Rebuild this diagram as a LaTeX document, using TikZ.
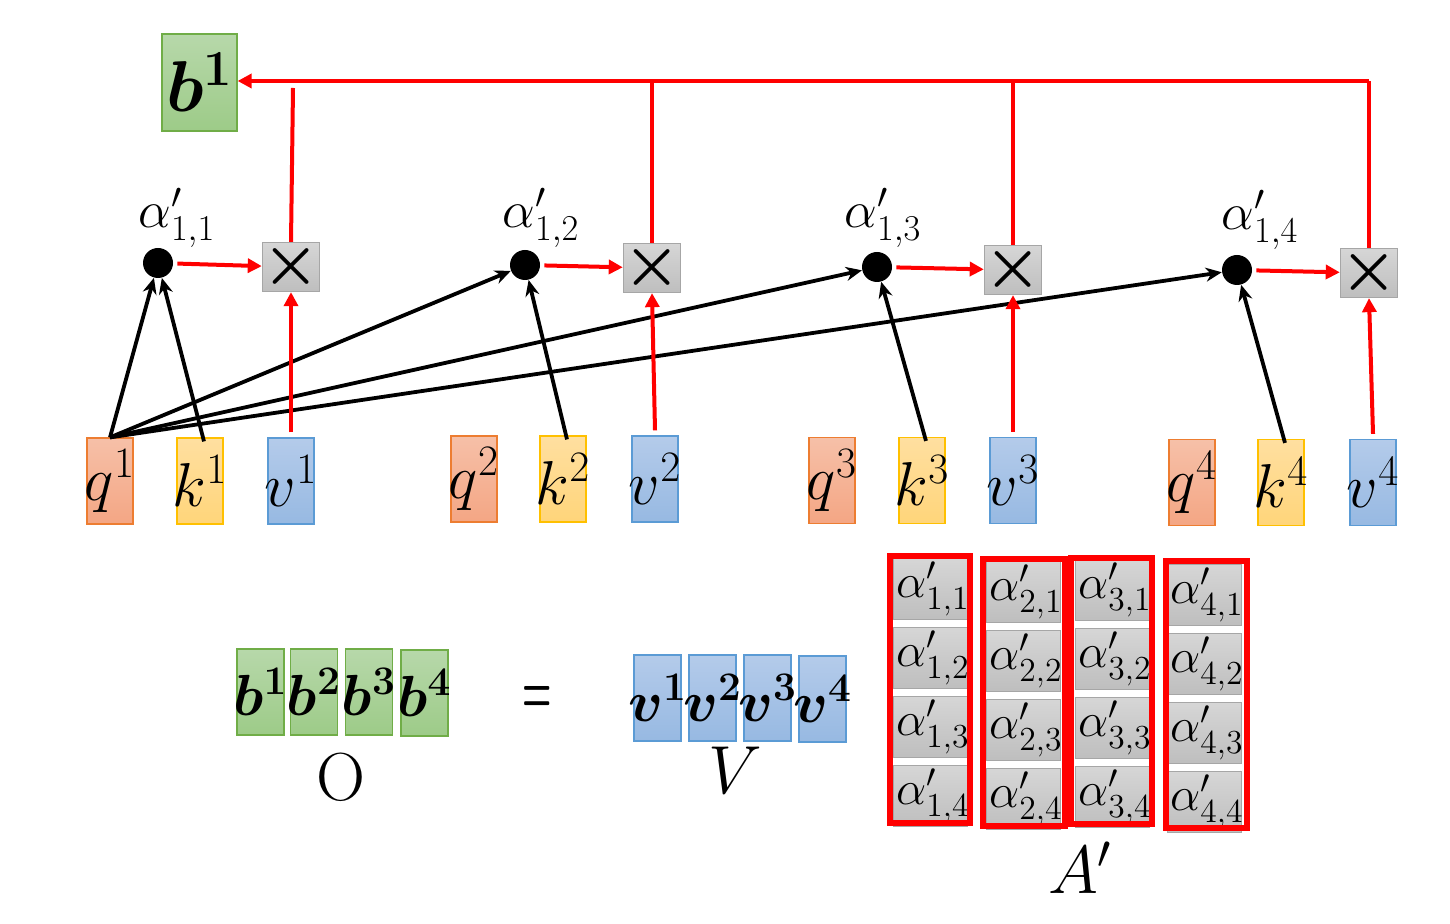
\RequirePackage{fix-cm}
\documentclass[tikz,border=0pt]{standalone}
\usepackage{amsmath,bm,graphicx}
\usetikzlibrary{arrows.meta,calc}
\definecolor{qtop}{RGB}{246,192,168}
\definecolor{qbot}{RGB}{244,166,132}
\definecolor{qdraw}{RGB}{237,125,49}
\definecolor{ktop}{RGB}{255,223,160}
\definecolor{kbot}{RGB}{255,213,122}
\definecolor{kdraw}{RGB}{255,192,0}
\definecolor{vtop}{RGB}{180,203,234}
\definecolor{vbot}{RGB}{151,185,226}
\definecolor{vdraw}{RGB}{91,155,213}
\definecolor{btop}{RGB}{183,216,170}
\definecolor{bbot}{RGB}{157,203,136}
\definecolor{bdraw}{RGB}{112,173,71}
\definecolor{gtop}{RGB}{214,214,214}
\definecolor{gbot}{RGB}{190,190,190}
\definecolor{gdraw}{RGB}{166,166,166}
\definecolor{myred}{RGB}{255,0,0}
\begin{document}
\begin{tikzpicture}[x=0.5pt,y=-0.5pt,
  vec/.style={draw, line width=0.6pt, minimum width=23pt, minimum height=43pt, inner sep=0pt,
    font=\fontsize{31}{33}\selectfont},
  qbox/.style={vec, draw=qdraw, top color=qtop, bottom color=qbot},
  kbox/.style={vec, draw=kdraw, top color=ktop, bottom color=kbot},
  vbox/.style={vec, draw=vdraw, top color=vtop, bottom color=vbot},
  bbox/.style={vec, draw=bdraw, top color=btop, bottom color=bbot},
  obox/.style={minimum width=23.5pt, font=\fontsize{29}{31}\selectfont},
  cross/.style={draw=gdraw, line width=0.6pt, top color=gtop, bottom color=gbot,
    minimum width=24pt, minimum height=24pt, inner sep=0pt, font=\fontsize{32}{32}\selectfont},
  cell/.style={draw=gdraw, line width=0.5pt, top color=gtop, bottom color=gbot,
    minimum width=37pt, minimum height=30.5pt, inner sep=0pt, font=\fontsize{24}{24}\selectfont},
  dot/.style={circle, fill=black, minimum size=15pt, inner sep=0pt},
  lab/.style={font=\fontsize{26}{28}\selectfont, inner sep=0pt},
  big/.style={font=\fontsize{34}{36}\selectfont, inner sep=0pt},
  rarr/.style={draw=myred, line width=2pt, -{Triangle[length=7pt,width=7pt]}},
  rline/.style={draw=myred, line width=2pt},
  barr/.style={draw=black, line width=1.9pt, -{Stealth[length=8pt,width=7pt]}},
  redbox/.style={draw=myred, line width=3pt}
]
\useasboundingbox (0,0) rectangle (1450,924);

% top output
\node[bbox, minimum width=37.5pt, minimum height=48.5pt, font=\fontsize{36}{38}\selectfont] (btop) at (199.5,82.5) {\makebox[0pt]{$\bm{b}^{\mathbf 1}$}};

% q k v
\node[qbox] (q1) at (110,481) {\makebox[0pt]{$q^1$}};
\node[kbox] (k1) at (200,481) {\makebox[0pt]{$k^1$}};
\node[vbox] (v1) at (291,481) {\makebox[0pt]{$v^1$}};
\node[qbox] (q2) at (474,479) {\makebox[0pt]{$q^2$}};
\node[kbox] (k2) at (563,479) {\makebox[0pt]{$k^2$}};
\node[vbox] (v2) at (655,479) {\makebox[0pt]{$v^2$}};
\node[qbox] (q3) at (832,480.5) {\makebox[0pt]{$q^3$}};
\node[kbox] (k3) at (922,480.5) {\makebox[0pt]{$k^3$}};
\node[vbox] (v3) at (1013,480.5) {\makebox[0pt]{$v^3$}};
\node[qbox] (q4) at (1192,482.5) {\makebox[0pt]{$q^4$}};
\node[kbox] (k4) at (1281,482.5) {\makebox[0pt]{$k^4$}};
\node[vbox] (v4) at (1373,482.5) {\makebox[0pt]{$v^4$}};

% dots
\node[dot] (d1) at (158,263) {};
\node[dot] (d2) at (525,265) {};
\node[dot] (d3) at (877,267) {};
\node[dot] (d4) at (1237,270) {};
\node[lab] (a1) at (177,218) {$\alpha'_{1,1}$};
\node[lab] (a2) at (541,218) {$\alpha'_{1,2}$};
\node[lab] (a3) at (883,218) {$\alpha'_{1,3}$};
\node[lab] (a4) at (1260,220) {$\alpha'_{1,4}$};

% crosses
\node[cross] (c1) at (291,267) {$\bm{\times}$};
\node[cross] (c2) at (652,268) {$\bm{\times}$};
\node[cross] (c3) at (1013,270) {$\bm{\times}$};
\node[cross] (c4) at (1369,273) {$\bm{\times}$};

% black arrows
\foreach \i in {1,2,3,4} {
  \draw[barr] (q1.north) -- (d\i);
  \draw[barr] ([xshift=2pt,yshift=-2pt]k\i.north) -- (d\i);
}

% red arrows
\foreach \i in {1,2,3,4} {
  \draw[rarr, shorten <=2pt] (d\i) -- (c\i);
  \draw[rarr] ([yshift=2.5pt]v\i.north) -- (c\i.south);
}

% top collecting line
\coordinate (tr) at (1369,81);
\coordinate (g1) at (293,88);
\draw[rline] (c4.north) -- (tr);
\draw[rarr] (tr) -- (btop.east |- tr);
\draw[rline] (c3.north) -- (c3.north |- tr);
\draw[rline] (c2.north) -- (c2.north |- tr);
\draw[rline] (c1.north) -- (g1);

% bottom equation
\node[bbox, obox] (ob1) at (260.5,692) {\makebox[0pt]{$\bm{b}^{\mathbf 1}$}};
\node[bbox, obox] (ob2) at (314,692) {\makebox[0pt]{$\bm{b}^{\mathbf 2}$}};
\node[bbox, obox] (ob3) at (369,692) {\makebox[0pt]{$\bm{b}^{\mathbf 3}$}};
\node[bbox, obox] (ob4) at (424.5,693) {\makebox[0pt]{$\bm{b}^{\mathbf 4}$}};
\node[big] (O) at (341,777) {O};
\node[inner sep=0pt, font=\fontsize{28}{28}\selectfont] (eq) at (537,700) {\scalebox{0.6}[1.25]{$\bm{=}$}};
\node[vbox, obox] (ov1) at (657.5,698) {\makebox[0pt]{$\bm{v}^{\mathbf 1}$}};
\node[vbox, obox] (ov2) at (712.5,698) {\makebox[0pt]{$\bm{v}^{\mathbf 2}$}};
\node[vbox, obox] (ov3) at (767.5,698) {\makebox[0pt]{$\bm{v}^{\mathbf 3}$}};
\node[vbox, obox] (ov4) at (822.5,699) {\makebox[0pt]{$\bm{v}^{\mathbf 4}$}};
\node[big] (Vl) at (735,770) {$V$};

% attention matrix
\foreach \c/\x/\y in {1/930/589, 2/1023/592, 3/1112/590, 4/1204/595} {
  \foreach \r in {1,2,3,4} {
    \node[cell] (m\c\r) at (\x,{\y+(\r-1)*69}) {\makebox[0pt]{\hspace{3pt}$\alpha'_{\c,\r}$}};
  }
}
\draw[redbox] (890,556) rectangle (970,823);
\draw[redbox] (983,559) rectangle (1065,826);
\draw[redbox] (1071,558) rectangle (1152,824);
\draw[redbox] (1166,561) rectangle (1247,828);
\node[big] (Al) at (1080,868) {$A'$};
\end{tikzpicture}
\end{document}
